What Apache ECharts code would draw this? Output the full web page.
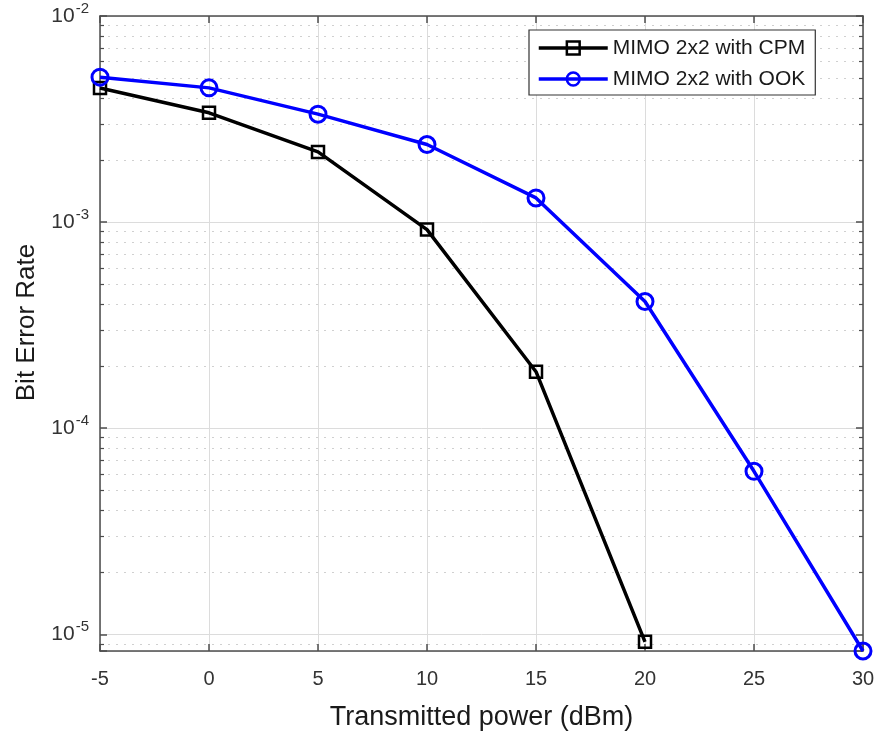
<!DOCTYPE html>
<html>
<head>
<meta charset="utf-8">
<script src="https://cdn.jsdelivr.net/npm/echarts@6/dist/echarts.min.js"></script>
<style>
  html, body { margin: 0; padding: 0; background: #fff; }
  #chart { width: 878px; height: 745px; }
</style>
</head>
<body>
<div id="chart"></div>
<script>
// Transmitted power (dBm) sweep
const powerDbm = [-5, 0, 5, 10, 15, 20, 25, 30];

// Bit error rate per scheme
const berCpm = [4.47e-3, 3.39e-3, 2.19e-3, 9.2e-4, 1.88e-4, 9.2e-6];
const berOok = [5.05e-3, 4.48e-3, 3.34e-3, 2.38e-3, 1.31e-3, 4.12e-4, 6.18e-5, 8.3e-6];

const seriesNames = ['MIMO 2x2 with CPM', 'MIMO 2x2 with OOK'];

// Axis limits
const xMin = -5, xMax = 30, xStep = 5;
const yMin = 8.3e-6, yMax = 1e-2;

const FONT = '"Liberation Sans", Arial, sans-serif';
const AXIS_COLOR = '#4d4d4d';

function pairs(ys) {
  return ys.map((y, i) => [powerDbm[i], y]);
}

// Decade labels as 10 with a raised exponent; in-between ticks stay blank
function expLabel(v) {
  const e = Math.log10(v);
  if (Math.abs(e - Math.round(e)) > 1e-6) return '';
  return '{b|10}{s|' + Math.round(e) + '}';
}

const chart = echarts.init(document.getElementById('chart'), null, { renderer: 'canvas' });

const yCommon = {
  type: 'log',
  logBase: 10,
  min: yMin,
  max: yMax,
  axisLine: { show: true, onZero: false, lineStyle: { color: AXIS_COLOR, width: 1.5 } },
  axisTick: { show: true, inside: true, length: 7, lineStyle: { color: AXIS_COLOR, width: 1.5 } },
  minorTick: { show: true, splitNumber: 9, length: 4, lineStyle: { color: AXIS_COLOR, width: 1.2 } }
};

chart.setOption({
  animation: false,
  backgroundColor: '#fff',
  grid: { left: 100, right: 15, top: 16, bottom: 94, containLabel: false },
  legend: {
    orient: 'vertical',
    left: 529,
    top: 30,
    padding: [7, 10, 5, 8],
    itemGap: 9,
    itemWidth: 69,
    itemHeight: 16,
    backgroundColor: '#fff',
    borderColor: '#333',
    borderWidth: 1.2,
    lineStyle: { width: 3.5 },
    itemStyle: { borderWidth: 2.5 },
    textStyle: { fontFamily: FONT, fontSize: 21, lineHeight: 22, color: '#1a1a1a' },
    data: seriesNames
  },
  xAxis: [
    {
      type: 'value',
      min: xMin, max: xMax, interval: xStep,
      name: 'Transmitted power (dBm)',
      nameLocation: 'middle',
      nameGap: 53,
      nameTextStyle: { fontFamily: FONT, fontSize: 27, color: '#1a1a1a' },
      axisLine: { show: true, onZero: false, lineStyle: { color: AXIS_COLOR, width: 1.5 } },
      axisTick: { show: true, inside: true, length: 7, lineStyle: { color: AXIS_COLOR, width: 1.5 } },
      axisLabel: { fontFamily: FONT, fontSize: 20, color: '#333', margin: 18 },
      splitLine: { show: true, lineStyle: { color: '#dcdcdc', width: 1 } }
    },
    {
      type: 'value',
      position: 'top',
      min: xMin, max: xMax, interval: xStep,
      axisLine: { show: true, onZero: false, lineStyle: { color: AXIS_COLOR, width: 1.5 } },
      axisTick: { show: true, inside: true, length: 7, lineStyle: { color: AXIS_COLOR, width: 1.5 } },
      axisLabel: { show: false },
      splitLine: { show: false }
    }
  ],
  yAxis: [
    Object.assign({}, yCommon, {
      name: 'Bit Error Rate',
      nameLocation: 'middle',
      nameGap: 60,
      nameTextStyle: { fontFamily: FONT, fontSize: 26, color: '#1a1a1a', padding: [0, 0, 0, 22] },
      axisLabel: {
        margin: 11,
        formatter: expLabel,
        rich: {
          b: { fontFamily: FONT, fontSize: 21, color: '#333' },
          s: { fontFamily: FONT, fontSize: 15, color: '#333', padding: [0, 0, 14, 1] }
        }
      },
      splitLine: { show: true, lineStyle: { color: '#dcdcdc', width: 1 } },
      minorSplitLine: { show: true, lineStyle: { color: '#d0d0d0', width: 1, type: [2, 6] } }
    }),
    Object.assign({}, yCommon, {
      position: 'right',
      axisLabel: { show: false },
      splitLine: { show: false },
      minorSplitLine: { show: false }
    })
  ],
  series: [
    {
      name: seriesNames[0],
      type: 'line',
      data: pairs(berCpm),
      symbol: 'rect',
      symbolSize: 12,
      lineStyle: { color: '#000', width: 3.5 },
      itemStyle: { color: 'rgba(0,0,0,0)', borderColor: '#000', borderWidth: 2.5 },
      z: 3
    },
    {
      name: seriesNames[1],
      type: 'line',
      data: pairs(berOok),
      symbol: 'circle',
      symbolSize: 16,
      lineStyle: { color: '#0000ff', width: 3.5 },
      itemStyle: { color: 'rgba(0,0,0,0)', borderColor: '#0000ff', borderWidth: 3 },
      z: 4
    }
  ]
});
</script>
</body>
</html>
